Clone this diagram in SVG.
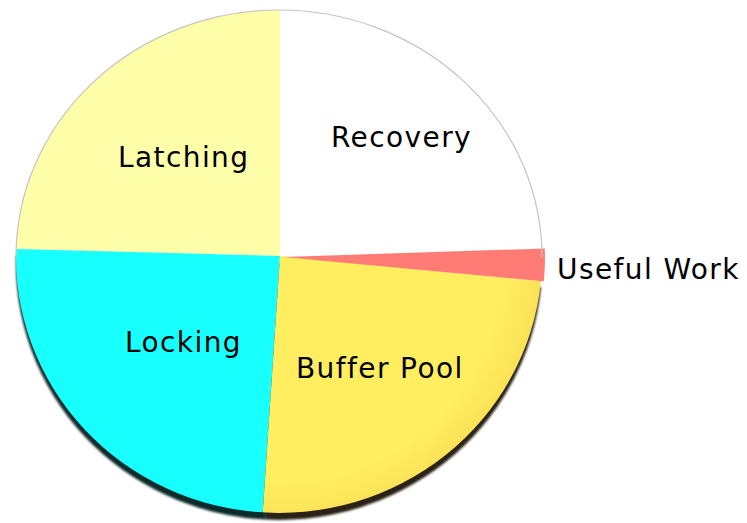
<svg xmlns="http://www.w3.org/2000/svg" width="747" height="523" viewBox="0 0 747 523">
  <defs>
    <!-- Pie top face: upper half slightly flatter than lower half (tilted view) -->
    <clipPath id="pieClip" clipPathUnits="userSpaceOnUse">
      <path d="M16,257 A263,247 0 0 1 542,257 A263,256 0 0 1 16,257 Z"/>
    </clipPath>
    <!-- Same outline nudged right for the pulled-out slice -->
    <clipPath id="pieClipOut" clipPathUnits="userSpaceOnUse">
      <path d="M19,257 A263,247 0 0 1 545,257 A263,256 0 0 1 19,257 Z"/>
    </clipPath>
    <radialGradient id="rimShade" cx="279" cy="257" r="263" gradientUnits="userSpaceOnUse">
      <stop offset="0.86" stop-color="#d07000" stop-opacity="0"/>
      <stop offset="1" stop-color="#d07000" stop-opacity="0.1"/>
    </radialGradient>
    <filter id="soft" x="-5%" y="-5%" width="110%" height="110%">
      <feGaussianBlur stdDeviation="0.8"/>
    </filter>
  </defs>
  <style>
    .lbl { font-family: "DejaVu Sans", "Liberation Sans", sans-serif; font-size: 28px; letter-spacing: 1.4px; fill: #000; }
  </style>

  <!-- Thickness of the disc, visible along the lower rim -->
  <g id="pie-edge" transform="translate(0,7)" filter="url(#soft)">
    <path clip-path="url(#pieClip)" fill="#0c2a2a" d="M280,256 L14,248 L14,540 L264,540 Z"/>
    <path clip-path="url(#pieClip)" fill="#2c2414" d="M280,256 L264,540 L560,540 L560,282 Z"/>
  </g>

  <g id="slice-latching">
    <path clip-path="url(#pieClip)" fill="#ffffaa" d="M280,256 L280,0 L0,0 L0,248 L15,249 Z"/>
  </g>
  <g id="slice-recovery">
    <path clip-path="url(#pieClip)" fill="#ffffff" d="M280,256 L280,0 L560,0 L560,249 Z"/>
  </g>
  <g id="slice-locking">
    <path clip-path="url(#pieClip)" fill="#18ffff" d="M280,256 L15,249 L0,249 L0,523 L262,523 Z"/>
  </g>
  <g id="slice-buffer-pool">
    <path clip-path="url(#pieClip)" fill="#ffee60" d="M280,256 L262,523 L560,523 L560,283 Z"/>
    <path clip-path="url(#pieClip)" fill="url(#rimShade)" d="M280,256 L262,523 L560,523 L560,283 Z"/>
  </g>
  <g id="slice-useful-work">
    <path clip-path="url(#pieClipOut)" fill="#ff7b76" d="M283,257 L560,248 L560,283 Z"/>
  </g>

  <!-- Faint outline round the upper rim -->
  <path d="M16,257 A263,247 0 0 1 542,257" fill="none" stroke="#c4c4c4" stroke-width="1.2"/>

  <g id="labels">
    <text class="lbl" x="331" y="147">Recovery</text>
    <text class="lbl" x="118" y="167">Latching</text>
    <text class="lbl" x="557" y="279">Useful Work</text>
    <text class="lbl" x="125" y="352">Locking</text>
    <text class="lbl" x="296" y="378">Buffer Pool</text>
  </g>
</svg>
